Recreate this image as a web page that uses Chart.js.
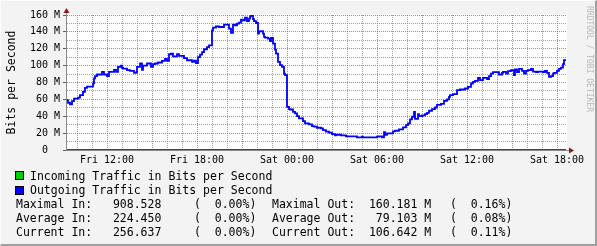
<!DOCTYPE html>
<html><head><meta charset="utf-8">
<script src="https://cdn.jsdelivr.net/npm/chart.js@4/dist/chart.umd.min.js"></script>
<style>
html,body{margin:0;padding:0;background:#f3f3f3;}
#wrap{position:relative;width:597px;height:246px;background:#f3f3f3;overflow:hidden;font-family:"DejaVu Sans Mono",monospace;}
#c{position:absolute;left:0;top:0;}
.t{position:absolute;white-space:pre;font-size:11.5px;line-height:14px;color:#000;}
.sq{position:absolute;width:7px;height:7px;border:1px solid #000;}
#frame{position:absolute;left:0;top:0;width:597px;height:246px;box-sizing:border-box;border-top:1px solid #fdfdfd;border-left:1px solid #fdfdfd;border-right:2px solid #a0a0a0;border-bottom:2px solid #a0a0a0;pointer-events:none;}
#rrd{position:absolute;left:534.5px;top:54px;width:108px;height:10px;line-height:10px;font-size:8px;color:#b8b8b8;text-align:center;white-space:pre;transform:rotate(90deg);transform-origin:center;}
</style>
</head><body>
<div id="wrap">
<canvas id="c" width="597" height="246"></canvas>
<div id="rrd">RRDTOOL / TOBI OETIKER</div>
<div class="sq" style="left:15px;top:171px;background:#00cc00"></div>
<div class="sq" style="left:15px;top:186px;background:#0000ff"></div>
<div class="t" id="l1" style="left:30px;top:168.5px"></div>
<div class="t" id="l2" style="left:30px;top:182.8px"></div>
<div class="t" id="s1a" style="left:16px;top:196.8px"></div>
<div class="t" id="s1b" style="left:194px;top:196.8px"></div>
<div class="t" id="s1c" style="left:272px;top:196.8px"></div>
<div class="t" id="s1d" style="left:450px;top:196.8px"></div>
<div class="t" id="s2a" style="left:16px;top:211px"></div>
<div class="t" id="s2b" style="left:194px;top:211px"></div>
<div class="t" id="s2c" style="left:272px;top:211px"></div>
<div class="t" id="s2d" style="left:450px;top:211px"></div>
<div class="t" id="s3a" style="left:16px;top:225px"></div>
<div class="t" id="s3b" style="left:194px;top:225px"></div>
<div class="t" id="s3c" style="left:272px;top:225px"></div>
<div class="t" id="s3d" style="left:450px;top:225px"></div>
<div id="frame"></div>
</div>
<script>
// ---- data (time in minutes since Fri 00:00, values in Mbit/s) ----
const outTimes = [560,564,572,580,588,604,612,624,632,640,664,668,672,680,700,708,720,728,748,756,764,776,780,784,800,812,828,836,840,852,860,864,880,896,904,912,924,940,952,960,968,976,984,1000,1008,1028,1040,1060,1068,1076,1084,1092,1100,1108,1120,1128,1140,1144,1156,1168,1188,1208,1216,1224,1232,1240,1248,1256,1264,1272,1280,1288,1292,1296,1304,1308,1316,1324,1328,1336,1344,1348,1352,1364,1372,1376,1384,1392,1396,1404,1412,1420,1428,1432,1440,1448,1452,1464,1472,1480,1488,1504,1512,1528,1540,1548,1560,1576,1584,1596,1608,1620,1632,1636,1656,1676,1720,1740,1744,1800,1808,1820,1828,1832,1840,1864,1872,1888,1904,1916,1924,1932,1940,1948,1952,1964,1968,1980,1992,2000,2008,2020,2032,2040,2056,2068,2080,2088,2092,2104,2120,2132,2152,2164,2176,2184,2192,2204,2212,2224,2240,2248,2256,2264,2288,2300,2304,2316,2324,2336,2348,2352,2360,2368,2380,2388,2396,2404,2416,2424,2436,2444,2464,2472,2480,2488,2496,2504,2508,2520,2528,2536,2544,2548,2556];
const outValues = [59,56,54,58,61,62,65,69,73.6,75,79,85,87.5,89.5,92.6,89.5,87.5,92.6,95,92.6,98.5,100,97.3,96.5,94.6,93.8,91.4,92,98.5,102.5,95,100,102.5,98.5,101.7,102.5,103.7,105.6,108,105.6,113.5,114.3,111,113.5,111.5,109,106.4,104.4,106,103,110,113,116,119.4,122,124,141.8,145,146.6,145.8,148.5,143.8,138.7,148.5,147.8,149.7,151,154.5,153.7,156.8,152.8,155.7,158.4,160.2,155.2,152.8,150.5,137.9,140.7,141,137.9,134,133.2,132,129.2,133,126,119,114.3,104.4,100.5,98.5,90.6,88.7,51,48.5,48,45.3,43.3,40.2,37.4,34.3,31.5,30.3,28.4,27.6,26.4,25.6,23.6,21.7,20.5,18.9,17.3,18.1,17.3,16.2,15,15.8,15,15.8,16.2,15,21.3,18.1,19.7,22,22.8,24.4,26.8,29.6,31.5,36.3,39.4,45.3,37,42.5,40.2,41,42.5,44.1,46.5,48.5,50.4,53.6,54.7,58.3,59.9,63,65,66.2,70.9,71.7,72.9,74.8,78.8,80.7,81.9,85.5,82.7,85.5,83.9,87.5,90.6,92.2,89.5,91.4,92.6,90.6,93.4,94.6,88.7,95.4,92.2,96.1,93.8,90.6,93.8,94.6,96.1,93,92.2,93,92.2,93.8,91.4,86.7,87.5,90.6,91.4,93.8,96.1,97.7,101.7,106.6,106.6];
const inTimes = [560, 2556];
const inValues = [0.000224, 0.000257];

const xTickMinutes = [720,1080,1440,1800,2160,2520];
const xTickLabels = ['Fri 12:00','Fri 18:00','Sat 00:00','Sat 06:00','Sat 12:00','Sat 18:00'];
const yTickValues = [0,20,40,60,80,100,120,140,160];
const yTickLabels = ['0  ','20 M','40 M','60 M','80 M','100 M','120 M','140 M','160 M'];

const legendLabels = ['Incoming Traffic in Bits per Second','Outgoing Traffic in Bits per Second'];
const statNames = ['Maximal','Average','Current'];
const statIn = ['908.528','224.450','256.637'];
const statInPct = ['0.00%','0.00%','0.00%'];
const statOut = ['160.181 M',' 79.103 M','106.642 M'];
const statOutPct = ['0.16%','0.08%','0.11%'];

// ---- text blocks ----
document.getElementById('l1').textContent = legendLabels[0];
document.getElementById('l2').textContent = legendLabels[1];
for (let i = 0; i < 3; i++) {
  const n = i + 1;
  document.getElementById('s'+n+'a').textContent = statNames[i] + ' In:   ' + statIn[i];
  document.getElementById('s'+n+'b').textContent = '(  ' + statInPct[i] + ')';
  document.getElementById('s'+n+'c').textContent = statNames[i] + ' Out:  ' + statOut[i];
  document.getElementById('s'+n+'d').textContent = '(  ' + statOutPct[i] + ')';
}

const MONO = 'DejaVu Sans Mono';
const RED = 'rgba(232,50,50,0.72)';
const GRAY = 'rgba(130,130,130,0.75)';

const bgPlugin = {
  id: 'bg',
  beforeDraw(chart) {
    const {ctx, chartArea: a} = chart;
    ctx.save();
    ctx.fillStyle = '#ffffff';
    ctx.fillRect(a.left, a.top - 1, a.right - a.left, a.bottom - a.top + 1);
    ctx.restore();
  }
};
const axisPlugin = {
  id: 'axes',
  beforeDatasetsDraw(chart) {
    const {ctx, chartArea: a} = chart;
    ctx.save();
    ctx.strokeStyle = '#8a8a8a';
    ctx.lineWidth = 1;
    ctx.beginPath();
    ctx.moveTo(a.left - 0.5, a.bottom + 0.5);
    ctx.lineTo(a.left - 0.5, a.top - 5);
    ctx.moveTo(a.left - 1, a.bottom + 0.5);
    ctx.lineTo(a.right + 4, a.bottom + 0.5);
    ctx.stroke();
    ctx.restore();
  },
  afterDatasetsDraw(chart) {
    const {ctx, chartArea: a} = chart;
    ctx.save();
    ctx.fillStyle = '#8a1c1c';
    ctx.beginPath();
    ctx.moveTo(a.left - 3.5, a.top - 2);
    ctx.lineTo(a.left + 2.5, a.top - 2);
    ctx.lineTo(a.left - 0.5, a.top - 7);
    ctx.closePath();
    ctx.fill();
    ctx.beginPath();
    ctx.moveTo(a.right + 2, a.bottom - 2.5);
    ctx.lineTo(a.right + 2, a.bottom + 3.5);
    ctx.lineTo(a.right + 7, a.bottom + 0.5);
    ctx.closePath();
    ctx.fill();
    ctx.restore();
  }
};

new Chart(document.getElementById('c'), {
  type: 'line',
  data: {
    datasets: [
      {label: 'Outgoing', data: outTimes.map((t, i) => ({x: t, y: outValues[i]})),
       borderColor: '#0000ff', borderWidth: 1.8, stepped: true, pointRadius: 0, fill: false, order: 0},
      {label: 'Incoming', data: inTimes.map((t, i) => ({x: t, y: inValues[i]})),
       borderColor: '#0b6a0b', borderWidth: 2, stepped: true, pointRadius: 0, fill: false, order: 1}
    ]
  },
  options: {
    animation: false, responsive: false, devicePixelRatio: 1,
    layout: {padding: {left: 0, top: 15, right: 30, bottom: 76}},
    plugins: {legend: {display: false}, tooltip: {enabled: false}},
    scales: {
      x: {
        type: 'linear', min: 560, max: 2560,
        afterBuildTicks: s => { const t = []; for (let v = 600; v <= 2520; v += 60) t.push({value: v}); s.ticks = t; },
        afterFit: s => { s.height = 20; },
        grid: {color: c => (c.tick && c.tick.value % 180 === 0) ? RED : GRAY, lineWidth: 1, drawTicks: false},
        border: {display: false, dash: [1, 1]},
        ticks: {autoSkip: false, maxRotation: 0, minRotation: 0, padding: 4, color: '#000',
                font: {family: MONO, size: 10},
                callback: v => { const i = xTickMinutes.indexOf(v); return i >= 0 ? xTickLabels[i] : ''; }}
      },
      y: {
        min: 0, max: 160,
        afterBuildTicks: s => { const t = []; for (let v = 0; v <= 160; v += 10) t.push({value: v}); s.ticks = t; },
        afterFit: s => { s.width = 67; },
        grid: {color: c => (c.tick && c.tick.value % 20 === 0) ? RED : GRAY, lineWidth: 1,
               tickLength: 4, tickColor: c => (c.tick && c.tick.value % 20 === 0) ? '#606060' : 'rgba(0,0,0,0)'},
        border: {display: false, dash: [1, 1]},
        ticks: {autoSkip: false, padding: 3, color: '#000', font: {family: MONO, size: 10},
                callback: v => { const i = yTickValues.indexOf(v); return i >= 0 ? yTickLabels[i] : ''; }},
        title: {display: true, text: 'Bits per Second', color: '#000', font: {family: MONO, size: 11.5},
                padding: {top: 5, bottom: 0}}
      }
    }
  },
  plugins: [bgPlugin, axisPlugin]
});
</script>
</body></html>
